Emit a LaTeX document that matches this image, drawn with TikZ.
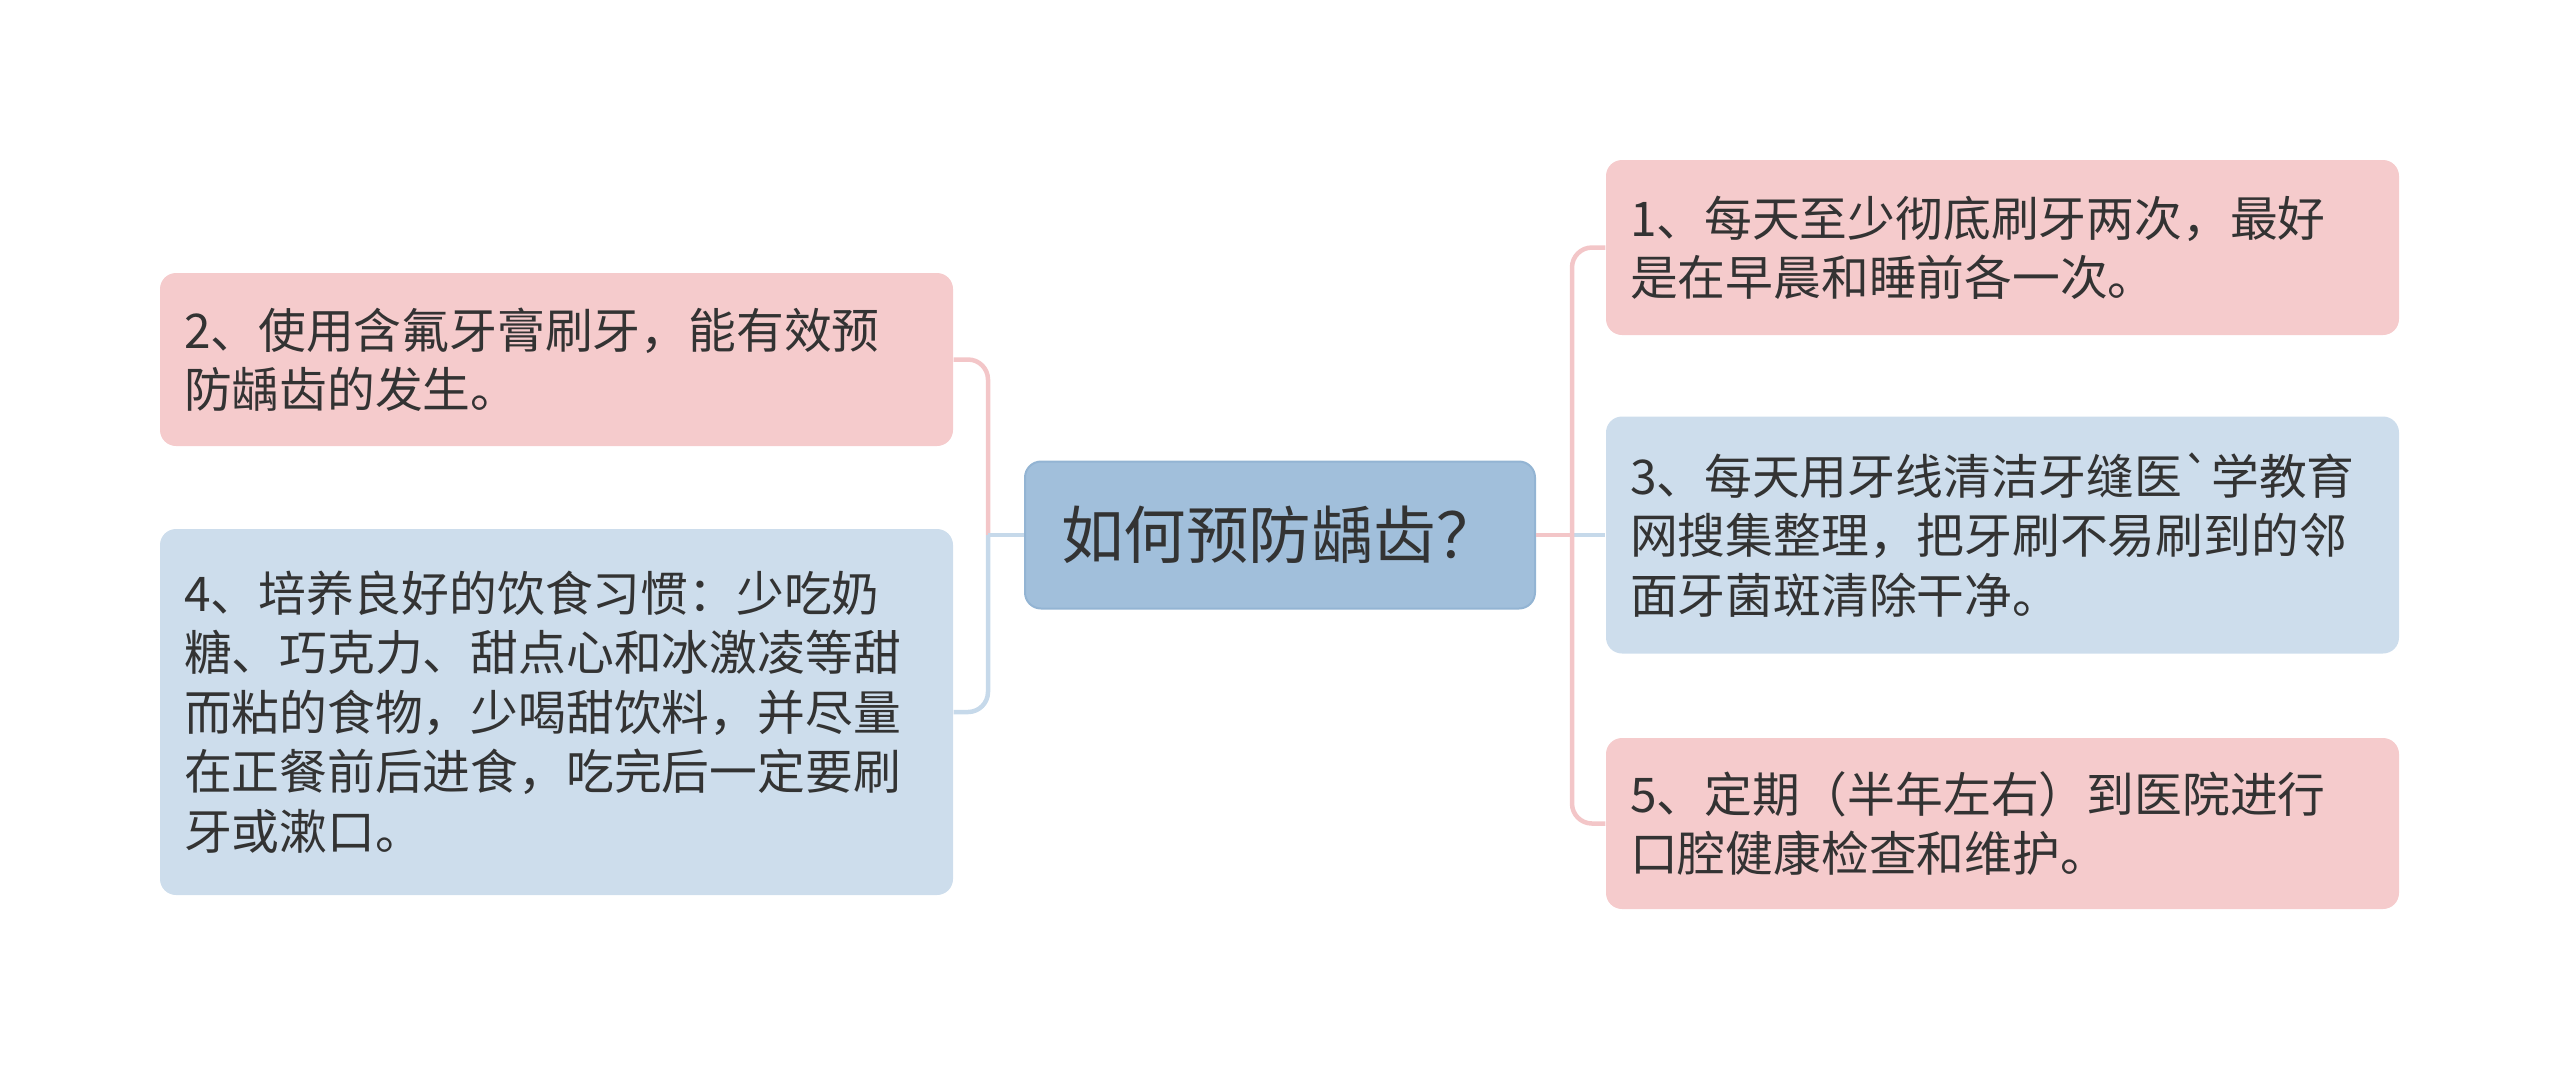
\documentclass[tikz,border=0pt]{standalone}
\usepackage{fontspec}
\setmainfont{Noto Sans CJK SC}
\newfontfamily\rawcjk{Noto Sans CJK SC}
\definecolor{pinkbox}{HTML}{F5CBCC}
\definecolor{bluebox}{HTML}{CDDDEC}
\definecolor{rootbox}{HTML}{A1BFDB}
\definecolor{rootedge}{HTML}{93B4D3}
\definecolor{pinkline}{HTML}{F3C6C8}
\definecolor{blueline}{HTML}{C6D9EA}
\definecolor{ink}{HTML}{333333}
\begin{document}
\begin{tikzpicture}[x=0.1mm, y=-0.1mm,
    leaf/.style={rounded corners=1.6mm, inner xsep=2.4mm, inner ysep=0pt,
        text width=74.5mm, align=left, text=ink,
        font=\fontsize{13.6pt}{16.9pt}\selectfont},
    pinkleaf/.style={leaf, fill=pinkbox},
    blueleaf/.style={leaf, fill=bluebox},
    link/.style={line width=0.45mm, rounded corners=2mm}]
    \useasboundingbox (0,0) rectangle (2560,1072);

    % Center
    \node[fill=rootbox, draw=rootedge, line width=0.2mm, rounded corners=1.6mm,
        minimum width=51mm, minimum height=14.7mm, text=ink,
        font=\fontsize{17.8pt}{20pt}\selectfont] (root) at (1280,535) {如何预防龋齿？\hspace{1.8mm}};

    % Right branches
    \node[pinkleaf, minimum height=17.5mm] (tip1) at (2002.5,247.5)
        {1、每天至少彻底刷牙两次，最好\\是在早晨和睡前各一次。};
    \node[blueleaf, minimum height=23.7mm] (tip3) at (2002.5,535)
        {3、每天用牙线清洁牙缝医{\rawcjk`}学教育\\网搜集整理，把牙刷不易刷到的邻\\面牙菌斑清除干净。};
    \node[pinkleaf, minimum height=17.1mm] (tip5) at (2002.5,823.5)
        {5、定期（半年左右）到医院进行\\口腔健康检查和维护。};

    % Left branches
    \node[pinkleaf, minimum height=17.3mm] (tip2) at (556.5,359.5)
        {2、使用含氟牙膏刷牙，能有效预\\防龋齿的发生。};
    \node[blueleaf, minimum height=36.6mm] (tip4) at (556.5,712)
        {4、培养良好的饮食习惯：少吃奶\\糖、巧克力、甜点心和冰激凌等甜\\而粘的食物，少喝甜饮料，并尽量\\在正餐前后进食，吃完后一定要刷\\牙或漱口。};

    % Connectors
    \coordinate (rjoin) at (1572,535);
    \coordinate (ljoin) at (988,535);
    \draw[link, blueline] (rjoin) -- (tip3.west);
    \draw[link, pinkline] (root.east) -- (rjoin);
    \draw[link, pinkline] (rjoin) |- (tip1.west);
    \draw[link, pinkline] (rjoin) |- (tip5.west);
    \draw[link, pinkline] (ljoin) |- (tip2.east);
    \draw[link, blueline] (ljoin) |- (tip4.east);
    \draw[link, blueline] (root.west) -- (ljoin);
\end{tikzpicture}
\end{document}
